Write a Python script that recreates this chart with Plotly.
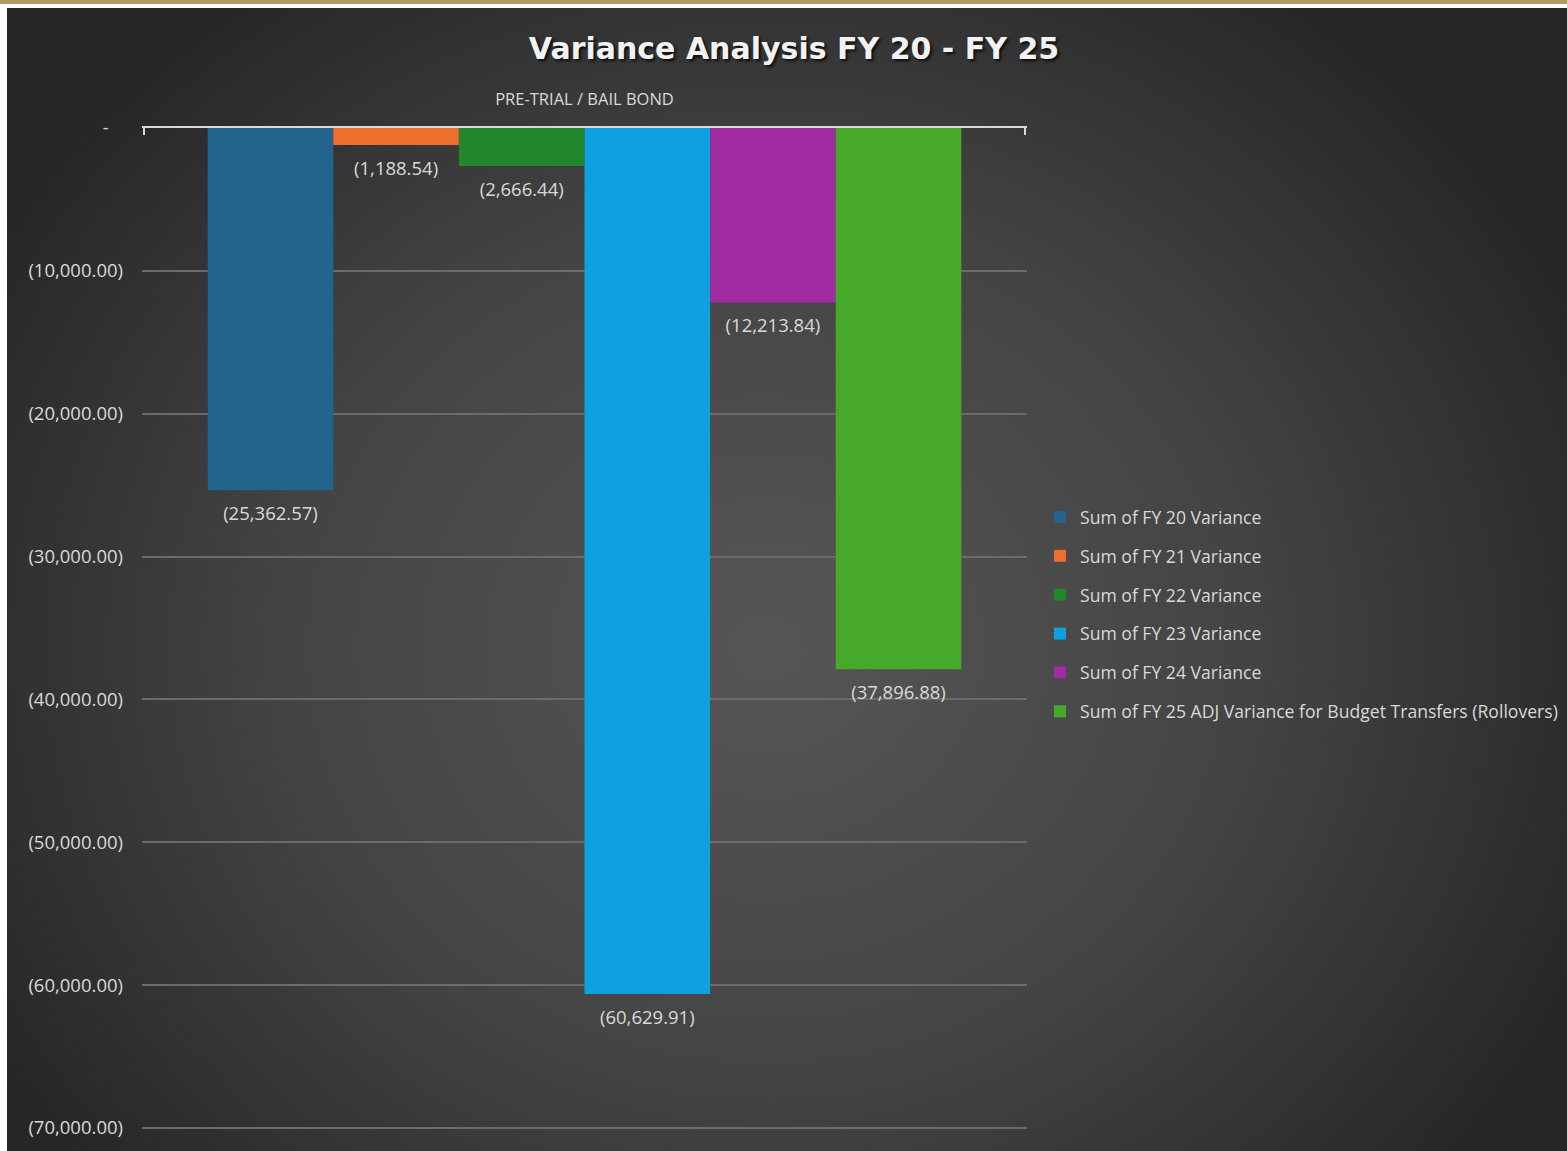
import base64
import plotly.graph_objects as go

# ---- data -------------------------------------------------------------
category = ["PRE-TRIAL / BAIL BOND"]

series_names = [
    "Sum of FY 20 Variance",
    "Sum of FY 21 Variance",
    "Sum of FY 22 Variance",
    "Sum of FY 23 Variance",
    "Sum of FY 24 Variance",
    "Sum of FY 25 ADJ Variance for Budget Transfers (Rollovers)",
]
series_values = [-25362.57, -1188.54, -2666.44, -60629.91, -12213.84, -37896.88]
series_colors = ["#22648c", "#ee6f2d", "#23852c", "#0ea0df", "#a12ba2", "#47a92a"]

y_tick_values = [0, -10000, -20000, -30000, -40000, -50000, -60000, -70000]
y_tick_labels = ["-\u00a0\u00a0\u00a0", "(10,000.00)", "(20,000.00)", "(30,000.00)",
                 "(40,000.00)", "(50,000.00)", "(60,000.00)", "(70,000.00)"]

# ---- layout constants ------------------------------------------------
W, H = 1567, 1151
M_L, M_R, M_T, M_B = 142, 540, 128, 16
PLOT_W = W - M_L - M_R
PLOT_H = H - M_T - M_B
GAP = 0.145
TXT = "#d9d9d9"
FONT = "Open Sans"


def fmt_acct(v):
    return f"({abs(v):,.2f})" if v < 0 else f"{v:,.2f}"


def px_to_paper_x(px):
    return (px - M_L) / PLOT_W


def px_to_paper_y(py):
    return (H - M_B - py) / PLOT_H


fig = go.Figure()

for name, val, col in zip(series_names, series_values, series_colors):
    fig.add_trace(go.Bar(
        x=category, y=[val], name=name, offsetgroup=name,
        marker=dict(color=col, line=dict(width=0)),
        legendgroup=name, hoverinfo="skip",
    ))

# value labels sit a little below each bar end
for name, val in zip(series_names, series_values):
    fig.add_trace(go.Scatter(
        x=category, y=[val], offsetgroup=name, mode="markers+text",
        text=[fmt_acct(val)], textposition="bottom center",
        textfont=dict(family=FONT, size=18.5, color=TXT),
        marker=dict(size=24, color="rgba(0,0,0,0)"),
        showlegend=False, hoverinfo="skip", cliponaxis=False,
    ))

# radial dark backdrop for the chart card
svg = (
    "<svg xmlns='http://www.w3.org/2000/svg' width='1560' height='1143' "
    "viewBox='0 0 1560 1143' preserveAspectRatio='none'>"
    "<defs><radialGradient id='g' gradientUnits='userSpaceOnUse' cx='760' cy='640' r='900' "
    "gradientTransform='translate(760 640) scale(1 0.9) translate(-760 -640)'>"
    "<stop offset='0' stop-color='#565656'/>"
    "<stop offset='0.55' stop-color='#434343'/>"
    "<stop offset='1' stop-color='#262626'/>"
    "</radialGradient></defs>"
    "<rect width='1560' height='1143' fill='url(#g)'/></svg>"
)
bg_uri = "data:image/svg+xml;base64," + base64.b64encode(svg.encode()).decode()

x0, x1 = px_to_paper_x(7), px_to_paper_x(W)
y0, y1 = px_to_paper_y(8), px_to_paper_y(H)

fig.update_layout(
    width=W, height=H,
    margin=dict(l=M_L, r=M_R, t=M_T, b=M_B, autoexpand=False),
    paper_bgcolor="#ffffff",
    plot_bgcolor="rgba(0,0,0,0)",
    barmode="group", bargap=GAP, bargroupgap=0,
    scattermode="group", scattergap=GAP,
    images=[dict(source=bg_uri, xref="paper", yref="paper",
                 x=x0, y=y0, sizex=x1 - x0, sizey=y0 - y1,
                 xanchor="left", yanchor="top", sizing="stretch", layer="below")],
    shapes=[dict(type="rect", xref="paper", yref="paper",
                 x0=px_to_paper_x(0), x1=px_to_paper_x(W),
                 y0=px_to_paper_y(4), y1=px_to_paper_y(0),
                 fillcolor="#b39862", line=dict(width=0), layer="below")],
    title=dict(
        text="<b>Variance Analysis FY 20 - FY 25</b>",
        x=794 / W, xanchor="center", y=1 - 48 / H, yanchor="middle",
        font=dict(family="DejaVu Sans", size=30, color="#f2f2f2",
                  shadow="2px 2px 3px rgba(0,0,0,0.8)"),
    ),
    xaxis=dict(
        side="top", type="category", range=[-0.502, 0.502],
        showline=True, linecolor=TXT, linewidth=2,
        ticks="inside", tickson="boundaries", ticklen=7, tickcolor=TXT, tickwidth=2,
        ticklabelstandoff=14,
        tickfont=dict(family=FONT, size=16.5, color=TXT),
        showgrid=False, zeroline=False, fixedrange=True,
    ),
    yaxis=dict(
        range=[-70500, 0],
        tickvals=y_tick_values, ticktext=y_tick_labels,
        tickfont=dict(family=FONT, size=18.5, color=TXT),
        ticks="", ticklabelstandoff=18,
        showgrid=True, gridcolor="#6b6b6b", gridwidth=2,
        zeroline=False, showline=False, fixedrange=True,
    ),
    legend=dict(
        x=px_to_paper_x(1040), xanchor="left",
        y=px_to_paper_y(499), yanchor="top",
        font=dict(family=FONT, size=17.6, color=TXT),
        bgcolor="rgba(0,0,0,0)", tracegroupgap=13,
        itemclick=False, itemdoubleclick=False,
    ),
    showlegend=True,
)

fig.write_html("out.html")
